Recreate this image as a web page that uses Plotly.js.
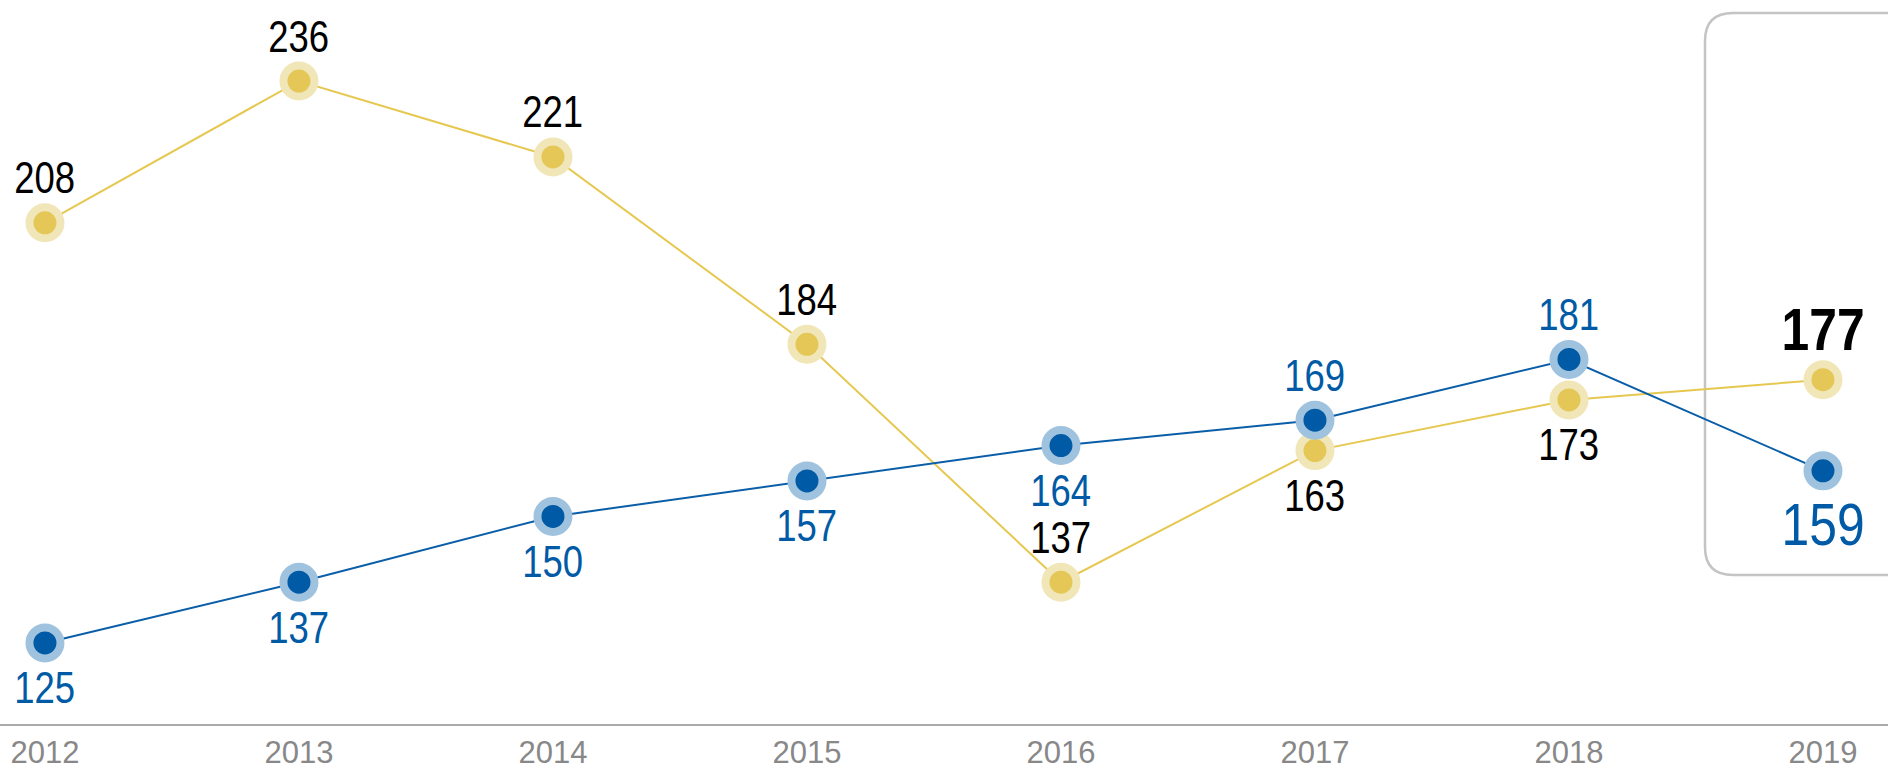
<!DOCTYPE html>
<html>
<head>
<meta charset="utf-8">
<script src="https://cdn.plot.ly/plotly-3.0.1.min.js"></script>
<style>
  html, body { margin: 0; padding: 0; background: #ffffff; }
  #chart { width: 1888px; height: 773px; }
  #chart text.annotation-text {
    transform-box: fill-box;
    transform-origin: 50% 50%;
    transform: scaleX(0.83);
  }
</style>
</head>
<body>
<div id="chart"></div>
<script>
// ---- data ----
const years = ['2012', '2013', '2014', '2015', '2016', '2017', '2018', '2019'];
const yellowValues = [208, 236, 221, 184, 137, 163, 173, 177];
const blueValues = [125, 137, 150, 157, 164, 169, 181, 159];

// label placement: +1 above the point, -1 below
const yellowSide = [1, 1, 1, 1, 1, -1, -1, 1];
const blueSide = [-1, -1, -1, -1, -1, 1, 1, -1];

// ---- styles ----
const FONT = 'Liberation Sans, Arial, sans-serif';
const BLUE = '#005aa5';
const BLUE_HALO = '#9fc3de';
const YELLOW = '#e4c757';
const YELLOW_HALO = '#f1e6b8';
const W = 1888, H = 773, MB = 49;
const PH = H - MB;

const traces = [
  {
    x: years, y: yellowValues, type: 'scatter', mode: 'lines+markers',
    line: { color: '#e6c850', width: 2 },
    marker: { size: 31, color: YELLOW, line: { color: YELLOW_HALO, width: 8 } },
    cliponaxis: false, hoverinfo: 'x+y'
  },
  {
    x: years, y: blueValues, type: 'scatter', mode: 'lines+markers',
    line: { color: '#0a5ea8', width: 2 },
    marker: { size: 31, color: BLUE, line: { color: BLUE_HALO, width: 8 } },
    cliponaxis: false, hoverinfo: 'x+y'
  }
];

const annotations = [];
const last = years.length - 1;
years.forEach((yr, i) => {
  const big = i === last;
  annotations.push({
    x: i, y: yellowValues[i], xref: 'x', yref: 'y',
    text: big ? '<b>' + yellowValues[i] + '</b>' : String(yellowValues[i]),
    showarrow: false, yanchor: 'middle', xanchor: 'center',
    yshift: yellowSide[i] * (big ? 50 : 45),
    font: { family: FONT, size: big ? 60 : 44, color: '#000000' }
  });
  annotations.push({
    x: i, y: blueValues[i], xref: 'x', yref: 'y',
    text: String(blueValues[i]),
    showarrow: false, yanchor: 'middle', xanchor: 'center',
    yshift: blueSide[i] * (big ? 54 : 45),
    font: { family: FONT, size: big ? 60 : 44, color: BLUE }
  });
});

// rounded highlight box around the last year (paper coordinates)
const bx0 = 1705 / W, bx1 = 1.03;
const byTop = 1 - 13 / PH, byBot = 1 - 575 / PH;
const rx = 28 / W, ry = 28 / PH;
const boxPath = 'M ' + bx1 + ',' + byTop +
  ' L ' + (bx0 + rx) + ',' + byTop +
  ' Q ' + bx0 + ',' + byTop + ' ' + bx0 + ',' + (byTop - ry) +
  ' L ' + bx0 + ',' + (byBot + ry) +
  ' Q ' + bx0 + ',' + byBot + ' ' + (bx0 + rx) + ',' + byBot +
  ' L ' + bx1 + ',' + byBot;

const layout = {
  width: W, height: H,
  margin: { l: 0, r: 0, t: 0, b: MB, pad: 0 },
  paper_bgcolor: '#ffffff', plot_bgcolor: '#ffffff',
  showlegend: false,
  xaxis: {
    type: 'category',
    range: [-0.177, 7.256],
    showgrid: false, zeroline: false,
    showline: true, linecolor: '#aaaaaa', linewidth: 2,
    ticks: '', ticklen: 0,
    tickfont: { family: FONT, size: 31, color: '#888888' },
    fixedrange: true
  },
  yaxis: {
    range: [109, 252],
    showgrid: false, zeroline: false, showline: false,
    showticklabels: false, ticks: '',
    fixedrange: true
  },
  shapes: [
    {
      type: 'path', xref: 'paper', yref: 'paper', path: boxPath,
      line: { color: '#c4c4c4', width: 2.5 }, layer: 'below'
    }
  ],
  annotations: annotations
};

Plotly.newPlot('chart', traces, layout, { displayModeBar: false, staticPlot: true });
</script>
</body>
</html>
